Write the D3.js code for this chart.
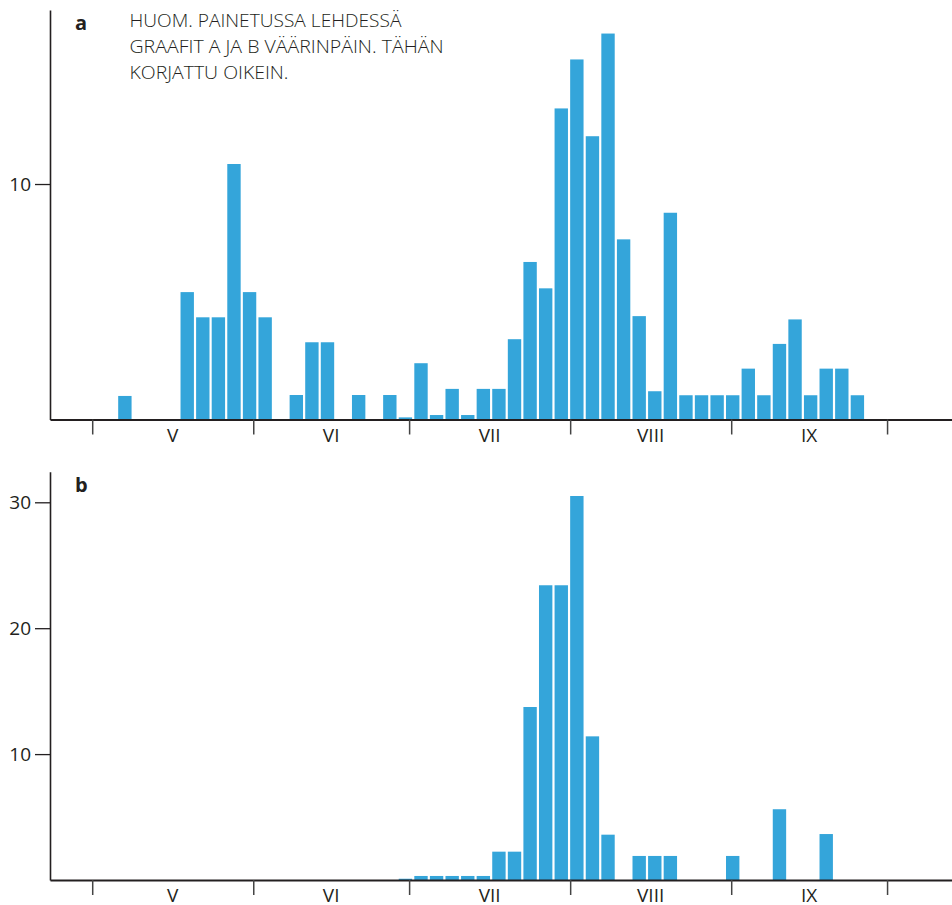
<!DOCTYPE html>
<html>
<head>
<meta charset="utf-8">
<script src="https://cdn.jsdelivr.net/npm/d3@7"></script>
<style>
  html, body { margin: 0; padding: 0; background: #fff; }
  svg { display: block; }
  text { font-family: "Open Sans", "DejaVu Sans", sans-serif; fill: #231f20; }
</style>
</head>
<body>
<svg id="chart" width="952" height="905"></svg>
<script>
// ---------- DATA ----------
// 3-day bins starting 6 May
const firstBinStart = "2000-05-06";
const binDays = 3;
const monthLabels = ["V", "VI", "VII", "VIII", "IX"];
const monthStarts = ["2000-05-01", "2000-06-01", "2000-07-01", "2000-08-01", "2000-09-01", "2000-10-01"];
const seriesA = [
  1.0, 0, 0, 0, 5.41, 4.34, 4.34, 10.85, 5.41, 4.34,
  0, 1.04, 3.28, 3.28, 0, 1.04, 0, 1.04, 0.09, 2.39,
  0.19, 1.30, 0.19, 1.30, 1.30, 3.41, 6.69, 5.57, 13.21, 15.29,
  12.03, 16.39, 7.65, 4.39, 1.20, 8.78, 1.03, 1.03, 1.03, 1.03,
  2.16, 1.03, 3.21, 4.25, 1.03, 2.16, 2.16, 1.03
];
const seriesB = [
  0, 0, 0, 0, 0, 0, 0, 0, 0, 0,
  0, 0, 0, 0, 0, 0, 0, 0, 0.1, 0.32,
  0.32, 0.32, 0.32, 0.32, 2.25, 2.25, 13.74, 23.41, 23.41, 30.5,
  11.41, 3.6, 0, 1.91, 1.91, 1.91, 0, 0, 0, 1.91,
  0, 0, 5.62, 0, 0, 3.65, 0, 0
];
const ticksA = [10];
const ticksB = [10, 20, 30];
const panelLetters = ["a", "b"];
const noteLines = ["HUOM. PAINETUSSA LEHDESSÄ", "GRAAFIT A JA B VÄÄRINPÄIN. TÄHÄN", "KORJATTU OIKEIN."];

// ---------- SETUP ----------
const svg = d3.select("#chart");
const parse = d3.utcParse("%Y-%m-%d");
const start0 = parse(firstBinStart);
const bins = seriesA.map((_, i) => d3.utcDay.offset(start0, binDays * i));
const months = monthStarts.map(parse);

const x = d3.scaleUtc()
  .domain([new Date(Date.UTC(2000, 3, 22, 21)), new Date(Date.UTC(2000, 9, 13, 12))])
  .range([50, 952]);

const barColor = "#34a5da";
const gap = 2.2;

function panel(values, yDomainMax, yTop, yBase, ticks, letter, letterY) {
  const y = d3.scaleLinear().domain([0, yDomainMax]).range([yBase, yTop]);
  const g = svg.append("g");

  g.selectAll("rect.bar")
    .data(values.map((v, i) => ({ v, d: bins[i] })).filter(o => o.v > 0))
    .join("rect")
    .attr("class", "bar")
    .attr("x", o => x(o.d))
    .attr("width", o => x(d3.utcDay.offset(o.d, binDays)) - x(o.d) - gap)
    .attr("y", o => y(o.v))
    .attr("height", o => y(0) - y(o.v))
    .attr("fill", barColor);

  // y axis
  const ya = g.append("g")
    .attr("transform", "translate(50,0)")
    .call(d3.axisLeft(y).tickValues(ticks).tickSizeInner(15).tickSizeOuter(0).tickPadding(4).tickFormat(d3.format("d")));
  ya.select(".domain").attr("stroke", "#231f20").attr("stroke-width", 1.6);
  ya.selectAll(".tick line").attr("stroke", "#231f20").attr("stroke-width", 1.3);
  ya.selectAll(".tick text").attr("font-size", 19).attr("font-family", "Open Sans, sans-serif").attr("fill", "#231f20");

  // x axis
  const xa = g.append("g")
    .attr("transform", `translate(0,${yBase})`)
    .call(d3.axisBottom(x).tickValues(months).tickSizeInner(15).tickSizeOuter(0).tickFormat(""));
  xa.select(".domain").attr("stroke", "#231f20").attr("stroke-width", 1.8);
  xa.selectAll(".tick line").attr("stroke", "#444").attr("stroke-width", 1.5);

  g.selectAll("text.month")
    .data(monthLabels)
    .join("text")
    .attr("class", "month")
    .attr("x", (d, i) => (x(months[i]) + x(months[i + 1])) / 2)
    .attr("y", yBase + 22.4)
    .attr("text-anchor", "middle")
    .attr("font-size", 19)
    .text(d => d);

  g.append("text")
    .attr("x", 75)
    .attr("y", letterY)
    .attr("font-size", 20)
    .attr("font-weight", "bold")
    .text(letter);
}

panel(seriesA, 17.39, 10, 419.5, ticksA, panelLetters[0], 30);
panel(seriesB, 32.43, 471.7, 880, ticksB, panelLetters[1], 491.5);

// note text
const noteWidths = [272, 314, 159];
svg.append("g").selectAll("text")
  .data(noteLines)
  .join("text")
  .attr("x", 129.5)
  .attr("y", (d, i) => 27 + i * 26)
  .attr("font-size", 18)
  .attr("font-weight", 300)
  .attr("fill", "#3a3a3a")
  .attr("textLength", (d, i) => noteWidths[i])
  .attr("lengthAdjust", "spacingAndGlyphs")
  .text(d => d);
</script>
</body>
</html>
